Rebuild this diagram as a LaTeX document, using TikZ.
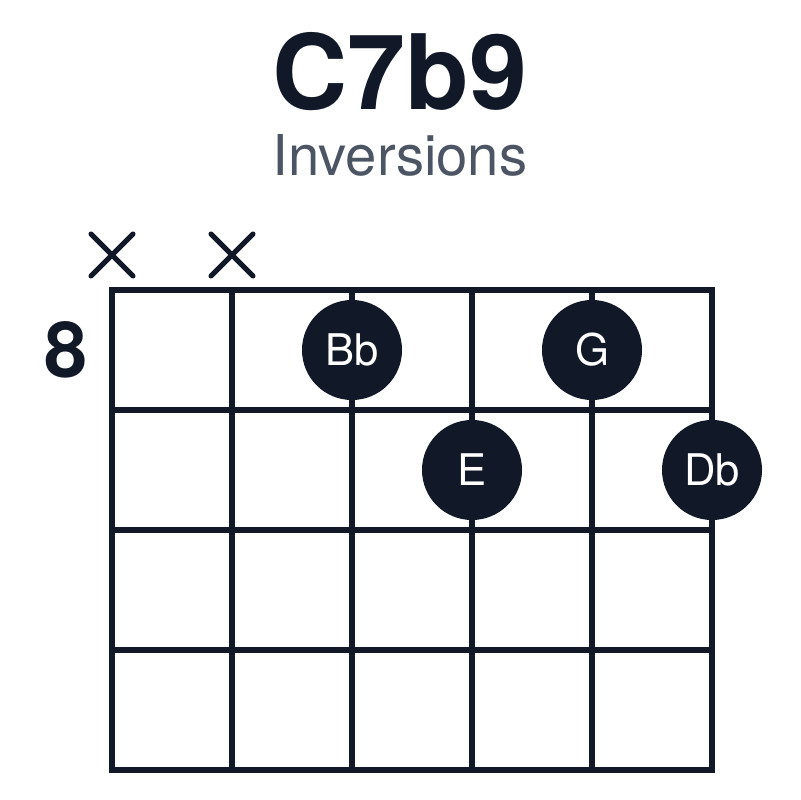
\documentclass[tikz,border=0pt]{standalone}
\usepackage{fontspec}
\setmainfont{TeX Gyre Heros}
\usepackage{xcolor}
\usetikzlibrary{calc,positioning}
\definecolor{InkColor}{HTML}{111827}
\definecolor{SubColor}{HTML}{4B5563}
\newcommand{\NStrings}{6}
\newcommand{\NFrets}{4}
\newcommand{\XLeft}{112}
\newcommand{\YTop}{290}
\newcommand{\StringSep}{120}
\newcommand{\FretSep}{120}
\newcommand{\PlaceDot}[3]{%
  % #1 name, #2 string number, #3 fret row
  \node[dot] (#1) at ({\XLeft+(#2-1)*\StringSep},{\YTop+(#3-0.5)*\FretSep}) {#1};
}

\begin{document}
\begin{tikzpicture}[
  x=0.025cm, y=-0.025cm,
  title/.style={font=\bfseries\fontsize{74}{80}\selectfont,text=InkColor,inner sep=0pt,anchor=base},
  subtitle/.style={font=\fontsize{40}{44}\selectfont,text=SubColor,inner sep=0pt,anchor=base},
  fretlabel/.style={font=\bfseries\fontsize{55}{60}\selectfont,text=InkColor,inner sep=0pt,anchor=base},
  gridline/.style={draw=InkColor,line width=4.3pt,line cap=rect},
  mute/.style={draw=InkColor,line width=3.6pt,line cap=round},
  dot/.style={circle,fill=InkColor,text=white,minimum size=2.5cm,inner sep=0pt,font=\fontsize{31}{34}\selectfont}
]
\useasboundingbox (0,0) rectangle (800,800);

% Titles
\node[title] (chord) at (400,110) {C7b9};
\node[subtitle] (kind) at (400,176) {Inversions};

% Strings and frets
\foreach \s in {1,...,\NStrings}{%
  \draw[gridline] ({\XLeft+(\s-1)*\StringSep},\YTop) -- ({\XLeft+(\s-1)*\StringSep},{\YTop+\NFrets*\FretSep});
}
\foreach \f in {0,...,\NFrets}{%
  \draw[gridline] (\XLeft,{\YTop+\f*\FretSep}) -- ({\XLeft+(\NStrings-1)*\StringSep},{\YTop+\f*\FretSep});
}

% Muted strings
\foreach \s in {1,2}{%
  \coordinate (m\s) at ({\XLeft+(\s-1)*\StringSep},255);
  \draw[mute] ($(m\s)+(-21,-21)$) -- ($(m\s)+(21,21)$);
  \draw[mute] ($(m\s)+(-21,21)$) -- ($(m\s)+(21,-21)$);
}

% Starting fret
\node[fretlabel] (fret) at (66,377) {8};

% Fingered notes
\PlaceDot{Bb}{3}{1}
\PlaceDot{G}{5}{1}
\PlaceDot{E}{4}{2}
\PlaceDot{Db}{6}{2}

\end{tikzpicture}
\end{document}
